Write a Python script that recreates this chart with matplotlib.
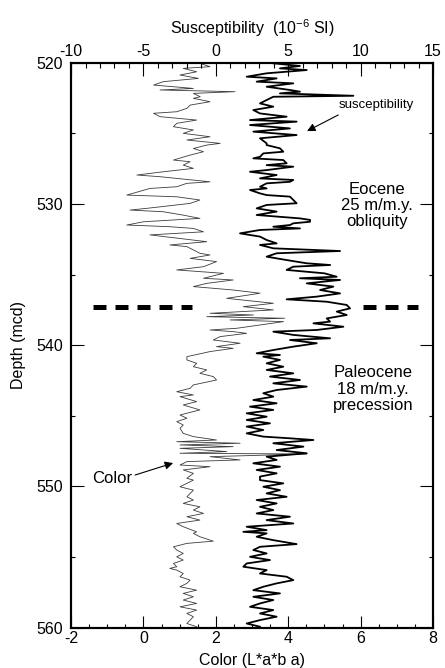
import numpy as np
import matplotlib
matplotlib.use('Agg')
import matplotlib.pyplot as plt
from matplotlib.ticker import MultipleLocator

plt.rcParams['font.family'] = ['Liberation Sans', 'DejaVu Sans']
plt.rcParams['mathtext.fontset'] = 'custom'
plt.rcParams['mathtext.rm'] = 'Liberation Sans'
plt.rcParams['mathtext.default'] = 'regular'
plt.rcParams['axes.unicode_minus'] = False

### Data
# Color (L*a*b a) record, depth in mcd
color_depth = [
  520.05, 520.28, 520.40, 520.64, 520.87, 521.11, 521.34, 521.58, 521.70, 521.82,
  521.93, 522.05, 522.17, 522.41, 522.52, 522.76, 523.00, 523.23, 523.47, 523.58,
  523.82, 524.06, 524.29, 524.53, 524.76, 525.00, 525.24, 525.47, 525.71, 525.83,
  526.07, 526.30, 526.54, 526.89, 527.01, 527.25, 527.48, 527.72, 527.95, 528.07,
  528.19, 528.43, 528.54, 528.78, 528.90, 529.37, 529.49, 529.72, 529.96, 530.31,
  530.43, 530.55, 530.79, 531.02, 531.26, 531.49, 531.61, 531.73, 531.97, 532.19,
  532.67, 532.90, 533.02, 533.49, 533.61, 533.85, 534.08, 534.44, 534.67, 534.91,
  535.26, 535.38, 535.62, 535.85, 536.09, 536.32, 536.68, 536.91, 537.03, 537.27,
  537.50, 537.74, 537.86, 537.98, 538.09, 538.21, 538.33, 538.80, 538.92, 539.04,
  539.16, 539.39, 539.63, 539.86, 540.10, 540.22, 540.45, 540.81, 541.04, 541.28,
  541.52, 541.75, 541.99, 542.22, 542.46, 542.81, 543.05, 543.29, 543.52, 543.64,
  543.99, 544.23, 544.58, 544.94, 545.17, 545.41, 545.65, 545.88, 546.24, 546.47,
  546.71, 546.83, 546.94, 547.06, 547.18, 547.30, 547.53, 547.65, 547.70, 547.89,
  548.12, 548.24, 548.48, 548.60, 548.83, 549.07, 549.42, 549.55, 549.78, 550.02,
  550.26, 550.49, 550.73, 550.96, 551.20, 551.44, 551.67, 551.91, 552.14, 552.38,
  552.62, 552.85, 553.21, 553.32, 553.56, 553.87, 554.03, 554.27, 554.50, 554.74,
  554.98, 555.21, 555.45, 555.68, 555.80, 555.92, 556.16, 556.39, 556.63, 556.86,
  557.10, 557.34, 557.57, 557.81, 558.04, 558.28, 558.52, 558.75, 558.99, 559.22,
  559.46, 559.70, 559.93]
color_val = [
  1.57, 1.84, 1.10, 1.47, 1.01, 1.52, 0.55, 0.28, 0.83, 1.38,
  0.46, 2.53, 1.38, 1.57, 1.38, 1.84, 1.29, 1.20, 0.92, 0.28,
  0.46, 1.47, 0.92, 0.83, 1.38, 1.10, 1.84, 1.20, 2.12, 1.75,
  1.38, 1.66, 1.29, 0.83, 1.29, 1.10, 1.38, 0.55, -0.18, 0.46,
  0.92, 1.84, 1.20, 0.92, 0.18, -0.46, 0.92, 1.56, 1.29, 0.09,
  -0.37, 0.55, 1.10, 1.56, 0.00, -0.46, 0.73, 1.38, 1.66, 0.18,
  1.75, 0.73, 1.20, 1.56, 1.84, 1.29, 2.02, 1.66, 0.92, 2.21,
  1.66, 2.48, 1.75, 1.38, 2.48, 3.22, 2.30, 3.13, 3.59, 2.76,
  3.59, 1.84, 3.04, 1.75, 3.90, 2.39, 3.87, 2.58, 1.84, 2.49,
  2.85, 2.12, 1.93, 2.67, 2.02, 2.48, 1.84, 1.20, 1.20, 1.47,
  1.38, 1.75, 1.56, 1.93, 2.02, 1.38, 1.29, 0.92, 1.38, 1.01,
  1.47, 1.10, 1.56, 1.01, 1.20, 0.92, 1.10, 1.01, 1.10, 1.38,
  2.02, 0.92, 2.67, 1.01, 2.48, 1.01, 2.30, 1.01, 4.51, 1.84,
  2.67, 1.20, 1.01, 1.84, 1.10, 1.38, 1.20, 1.38, 1.20, 1.01,
  1.38, 1.29, 1.20, 1.38, 1.10, 1.56, 1.38, 1.66, 1.20, 1.56,
  0.92, 1.10, 1.47, 1.38, 1.56, 1.93, 1.20, 0.83, 0.92, 1.10,
  0.92, 1.10, 0.83, 0.92, 0.73, 0.92, 1.10, 1.01, 1.29, 1.20,
  1.01, 1.47, 1.10, 1.38, 1.10, 1.47, 1.01, 1.47, 1.20, 1.38,
  1.29, 1.20, 1.47]

# Magnetic susceptibility record (10^-6 SI)
susc_depth = [
  520.04, 520.23, 520.40, 520.52, 520.75, 520.99, 521.11, 521.34, 521.46, 521.70,
  521.93, 522.05, 522.17, 522.34, 522.41, 522.64, 522.88, 523.11, 523.35, 523.59,
  523.82, 524.06, 524.17, 524.41, 524.65, 524.88, 525.12, 525.35, 525.71, 525.83,
  526.06, 526.30, 526.42, 526.66, 526.77, 526.89, 527.12, 527.25, 527.36, 527.60,
  527.72, 527.95, 528.19, 528.30, 528.43, 528.54, 528.78, 528.90, 529.01, 529.25,
  529.37, 529.48, 529.72, 529.95, 530.07, 530.31, 530.54, 530.78, 531.02, 531.13,
  531.26, 531.37, 531.49, 531.61, 531.73, 531.84, 532.08, 532.31, 532.55, 532.79,
  532.90, 533.14, 533.33, 533.49, 533.73, 533.97, 534.20, 534.32, 534.44, 534.67,
  534.91, 535.15, 535.26, 535.38, 535.62, 535.85, 536.09, 536.33, 536.56, 536.75,
  536.92, 537.15, 537.39, 537.62, 537.86, 538.10, 538.33, 538.45, 538.69, 538.92,
  539.04, 539.27, 539.51, 539.63, 539.86, 540.10, 540.34, 540.57, 540.69, 540.81,
  541.04, 541.28, 541.52, 541.75, 541.99, 542.22, 542.46, 542.70, 542.93, 543.17,
  543.40, 543.64, 543.88, 544.11, 544.35, 544.58, 544.82, 545.06, 545.29, 545.53,
  545.76, 546.00, 546.24, 546.47, 546.59, 546.71, 546.94, 547.18, 547.42, 547.65,
  547.89, 548.12, 548.36, 548.60, 548.83, 549.07, 549.30, 549.55, 549.78, 550.02,
  550.26, 550.49, 550.73, 550.96, 551.20, 551.44, 551.67, 551.91, 552.14, 552.38,
  552.62, 552.85, 553.09, 553.21, 553.32, 553.56, 553.80, 554.08, 554.27, 554.50,
  554.74, 554.98, 555.21, 555.45, 555.68, 555.92, 556.16, 556.39, 556.63, 556.86,
  557.10, 557.34, 557.57, 557.81, 558.04, 558.28, 558.52, 558.75, 558.99, 559.22,
  559.46, 559.70, 559.93]
susc_val = [
  3.97, 5.81, 4.43, 6.28, 3.51, 2.13, 4.20, 2.82, 5.35, 3.51,
  5.12, 5.81, 4.43, 9.50, 3.97, 3.51, 3.05, 3.97, 2.59, 3.05,
  4.89, 2.36, 5.58, 2.36, 5.12, 2.59, 5.58, 3.05, 3.51, 3.51,
  4.43, 4.66, 3.28, 3.05, 2.59, 4.66, 4.89, 3.51, 5.35, 3.51,
  2.36, 4.20, 3.05, 5.35, 5.12, 3.51, 3.05, 3.51, 2.36, 3.05,
  3.51, 5.12, 5.35, 5.58, 3.51, 2.82, 4.20, 2.82, 5.81, 6.51,
  6.50, 5.35, 5.12, 3.97, 5.81, 3.05, 1.67, 3.05, 3.51, 4.20,
  3.05, 3.97, 8.58, 4.20, 3.51, 4.89, 6.28, 7.90, 5.35, 4.89,
  7.50, 8.35, 5.81, 8.58, 6.28, 8.12, 7.20, 8.58, 6.97, 4.89,
  7.66, 9.04, 9.27, 8.35, 9.04, 7.66, 7.89, 6.74, 8.81, 6.97,
  3.97, 5.35, 7.89, 5.12, 6.97, 5.35, 3.97, 2.82, 4.43, 3.28,
  4.43, 3.51, 4.66, 3.51, 5.35, 3.74, 5.81, 3.97, 6.28, 4.20,
  3.28, 3.97, 2.59, 4.20, 2.36, 3.97, 2.13, 3.51, 2.13, 3.74,
  2.13, 3.28, 2.13, 3.28, 5.12, 6.74, 3.97, 6.05, 4.20, 6.28,
  3.51, 4.20, 2.59, 4.43, 2.82, 4.20, 3.05, 3.05, 4.66, 3.28,
  4.43, 3.51, 4.89, 2.82, 4.20, 3.05, 3.97, 2.82, 5.12, 3.51,
  5.35, 2.13, 3.51, 1.90, 3.51, 2.82, 3.97, 5.58, 3.05, 2.59,
  3.51, 2.36, 3.74, 2.13, 1.90, 3.51, 3.05, 4.89, 5.35, 4.20,
  3.28, 2.59, 4.43, 2.59, 3.97, 3.05, 2.36, 3.97, 3.05, 4.20,
  3.05, 2.13, 3.05]

# Eocene / Paleocene boundary, drawn in color units
boundary_depth = 537.3
boundary_left = [-1.39, 1.34]
boundary_right = [6.07, 7.59]

### Plot
fig = plt.figure(figsize=(4.45, 6.68), dpi=100)
ax = fig.add_axes([0.1596, 0.0603, 0.8135, 0.8458])
ax2 = ax.twiny()

ax.plot(color_val, color_depth, color='#3c3c3c', lw=0.6)
ax2.plot(susc_val, susc_depth, color='black', lw=1.3)

for seg in (boundary_left, boundary_right):
  ax.plot(seg, [boundary_depth, boundary_depth], color='black', lw=3.6,
          dashes=(2.6, 1.8), solid_capstyle='butt', dash_capstyle='butt')

ax.set_xlim(-2, 8)
ax2.set_xlim(-10, 15)
ax.set_ylim(560, 520)

# ticks
ax.xaxis.set_major_locator(MultipleLocator(2))
ax.xaxis.set_minor_locator(MultipleLocator(0.5))
ax2.xaxis.set_major_locator(MultipleLocator(5))
ax2.xaxis.set_minor_locator(MultipleLocator(1))
ax.yaxis.set_major_locator(MultipleLocator(10))
ax.yaxis.set_minor_locator(MultipleLocator(5))

ax.tick_params(axis='x', which='major', direction='in', length=9, width=0.8,
               labelsize=11.5, pad=2.5)
ax.tick_params(axis='x', which='minor', direction='in', length=3, width=0.8)
ax2.tick_params(axis='x', which='major', direction='in', length=9.5, width=0.8,
                labelsize=11.5, pad=3)
ax2.tick_params(axis='x', which='minor', direction='in', length=3.5, width=0.8)
ax.tick_params(axis='y', which='both', direction='in', left=True, right=True,
               width=0.8, labelsize=11.5, pad=6)
ax.tick_params(axis='y', which='major', length=9.5)
ax.tick_params(axis='y', which='minor', length=3)

for a in (ax, ax2):
  for sp in a.spines.values():
    sp.set_linewidth(1.5)

ax.set_xlabel('Color (L*a*b a)', fontsize=11.5, labelpad=5)
ax2.set_xlabel('Susceptibility  (10$^{-6}$ SI)', fontsize=11.5, labelpad=7)
ax.set_ylabel('Depth (mcd)', fontsize=11.5, labelpad=7)

# labels on the panel
ax.text(6.45, 530.1, 'Eocene\n25 m/m.y.\nobliquity', fontsize=12,
        ha='center', va='center', ma='center', linespacing=1.1)
ax.text(6.34, 543.1, 'Paleocene\n18 m/m.y.\nprecession', fontsize=12,
        ha='center', va='center', ma='center', linespacing=1.1)
ax.text(6.43, 523.0, 'susceptibility', fontsize=9.5, ha='center', va='center')
ax.annotate('', xy=(4.52, 524.84), xytext=(5.38, 523.7),
            arrowprops=dict(arrowstyle='-|>', color='black', lw=0.8,
                            mutation_scale=12, shrinkA=0, shrinkB=0))
ax.text(-0.87, 549.47, 'Color', fontsize=12, ha='center', va='center')
ax.annotate('', xy=(0.82, 548.34), xytext=(-0.23, 549.19),
            arrowprops=dict(arrowstyle='-|>', color='black', lw=0.8,
                            mutation_scale=12, shrinkA=0, shrinkB=0))

fig.savefig('out.png', dpi=100)
